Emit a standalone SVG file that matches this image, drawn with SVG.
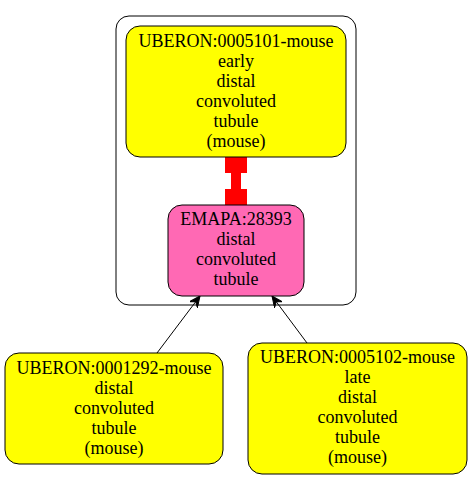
<svg xmlns="http://www.w3.org/2000/svg" width="472" height="480" viewBox="0 0 472 480">
<style>
text{font-family:"Liberation Serif","Times New Roman",serif;font-size:18px;text-anchor:middle;fill:#000}
.node{stroke:#000;stroke-width:1}
.edge{stroke:#000;stroke-width:1;fill:none}
</style>
<defs>
<marker id="vee" markerUnits="userSpaceOnUse" markerWidth="12" markerHeight="10" refX="11" refY="5" orient="auto" viewBox="0 0 12 10">
<path d="M0,0 L11,5 L0,10 L4,5 Z" fill="#000" stroke="#000" stroke-width="1"/>
</marker>
</defs>
<rect x="0" y="0" width="472" height="480" fill="#fff"/>
<g id="cluster">
<rect x="116" y="16" width="240" height="289" rx="13" ry="13" fill="none" stroke="#000"/>
</g>
<g id="connectors">
<g id="e-red" fill="#ff0000" stroke="#ff0000">
<rect x="225.5" y="152.5" width="21" height="20"/>
<rect x="231.5" y="172.5" width="9" height="17"/>
<rect x="225.5" y="189.5" width="21" height="16"/>
</g>
<path class="edge" d="M157,353 L200,296" marker-end="url(#vee)"/>
<path class="edge" d="M307,343 L272,296" marker-end="url(#vee)"/>
</g>
<g id="n-UBERON-0005101">
<rect class="node" x="126" y="26" width="220" height="131" rx="14" ry="14" fill="#ffff00"/>
<text x="236" y="47">UBERON:0005101-mouse</text>
<text x="236" y="67">early</text>
<text x="236" y="87">distal</text>
<text x="236" y="107">convoluted</text>
<text x="236" y="127">tubule</text>
<text x="236" y="147">(mouse)</text>
</g>
<g id="n-EMAPA-28393">
<rect class="node" x="168" y="205" width="136" height="91" rx="14" ry="14" fill="#ff69b4"/>
<text x="236" y="225">EMAPA:28393</text>
<text x="236" y="245">distal</text>
<text x="236" y="265">convoluted</text>
<text x="236" y="285">tubule</text>
</g>
<g id="n-UBERON-0001292">
<rect class="node" x="5" y="353" width="218" height="111" rx="14" ry="14" fill="#ffff00"/>
<text x="114" y="374">UBERON:0001292-mouse</text>
<text x="114" y="394">distal</text>
<text x="114" y="414">convoluted</text>
<text x="114" y="434">tubule</text>
<text x="114" y="454">(mouse)</text>
</g>
<g id="n-UBERON-0005102">
<rect class="node" x="248" y="343" width="219" height="131" rx="14" ry="14" fill="#ffff00"/>
<text x="357.5" y="363">UBERON:0005102-mouse</text>
<text x="357.5" y="383">late</text>
<text x="357.5" y="403">distal</text>
<text x="357.5" y="423">convoluted</text>
<text x="357.5" y="443">tubule</text>
<text x="357.5" y="463">(mouse)</text>
</g>
</svg>
